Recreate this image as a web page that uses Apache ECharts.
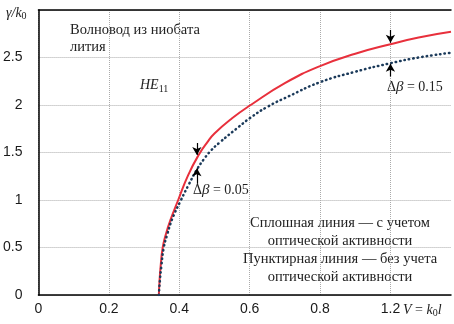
<!DOCTYPE html>
<html>
<head>
<meta charset="utf-8">
<script src="https://cdn.jsdelivr.net/npm/echarts@6/dist/echarts.min.js"></script>
<style>
  html, body { margin: 0; padding: 0; background: #fff; }
  #chart { width: 454px; height: 324px; }
</style>
</head>
<body>
<div id="chart"></div>
<script>
// tick labels as printed on the original (last one reads 1.2 at the 1.0 position)
const xTickLabels = ['0', '0.2', '0.4', '0.6', '0.8', '1.2']
const yTickLabels = ['0', '0.5', '1', '1.5', '2', '2.5']

// solid line: with optical activity
const vSolid = [0.342, 0.344, 0.347, 0.353, 0.362, 0.375, 0.397, 0.425, 0.456, 0.48, 0.5, 0.55, 0.603, 0.7, 0.8, 0.9, 1.0, 1.08, 1.172]
const gSolid = [0, 0.15, 0.3, 0.5, 0.64, 0.79, 1.0, 1.26, 1.48, 1.61, 1.7, 1.86, 2.0, 2.23, 2.41, 2.54, 2.64, 2.71, 2.77]

// dotted line: without optical activity
const vDotted = [0.342, 0.345, 0.349, 0.356, 0.366, 0.38, 0.405, 0.428, 0.45, 0.47, 0.49, 0.513, 0.569, 0.6, 0.65, 0.71, 0.8, 0.9, 1.0, 1.08, 1.172]
const gDotted = [0, 0.15, 0.3, 0.5, 0.64, 0.8, 1.0, 1.17, 1.32, 1.43, 1.52, 1.6, 1.77, 1.86, 1.98, 2.09, 2.24, 2.35, 2.44, 2.5, 2.55]

// arrows marking the gap between the curves: [x, tail, tip]
const arrowDown = [[0.45, 1.6, 1.475], [1.0, 2.79, 2.655]]
const arrowUp = [[0.45, 1.17, 1.335], [1.0, 2.3, 2.435]]

const serif = 'Liberation Serif'
const sans = 'Liberation Sans'

let mychart = echarts.init(document.getElementById('chart'))

function arrowLines(list) {
  return list.map((a) => [
    { coord: [a[0], a[1]], symbol: 'none' },
    { coord: [a[0], a[2]], symbol: 'arrow', symbolSize: [7, 8] },
  ])
}

let option = {
  animation: false,
  grid: { left: 38, right: 0, top: 10, bottom: 29 },
  xAxis: [
    {
      type: 'value',
      min: 0,
      max: 1.172,
      interval: 0.2,
      axisLine: { lineStyle: { color: '#000', width: 1.5 } },
      axisTick: { show: false },
      axisLabel: {
        color: '#1a1a1a',
        fontFamily: sans,
        fontSize: 14,
        margin: 7,
        formatter: (v) => {
          let i = Math.round(v / 0.2)
          return Math.abs(v - i * 0.2) < 1e-6 && i < xTickLabels.length ? xTickLabels[i] : ''
        },
      },
      splitLine: { showMaxLine: false, lineStyle: { color: '#aaa', type: 'dotted', width: 1 } },
    },
    {
      type: 'value',
      position: 'top',
      min: 0,
      max: 1.172,
      axisLine: { show: true, onZero: false, lineStyle: { color: '#000', width: 1.5 } },
      axisTick: { show: false },
      axisLabel: { show: false },
      splitLine: { show: false },
    },
  ],
  yAxis: {
    type: 'value',
    min: 0,
    max: 3,
    interval: 0.5,
    axisLine: { show: true, lineStyle: { color: '#000', width: 1.5 } },
    axisTick: { show: false },
    axisLabel: {
      color: '#1a1a1a',
      fontFamily: sans,
      fontSize: 14,
      margin: 16,
      formatter: (v) => {
        let i = Math.round(v / 0.5)
        return i < yTickLabels.length ? yTickLabels[i] : ''
      },
    },
    splitLine: { lineStyle: { color: '#aaa', type: 'dotted', width: 1 } },
  },
  series: [
    {
      type: 'line',
      data: vSolid.map((v, i) => [v, gSolid[i]]),
      smooth: true,
      symbol: 'none',
      lineStyle: { color: '#e8303c', width: 2 },
      markLine: {
        silent: true,
        label: { show: false },
        lineStyle: { color: '#000', width: 1.2, type: 'solid' },
        data: arrowLines(arrowDown),
      },
    },
    {
      type: 'line',
      data: vDotted.map((v, i) => [v, gDotted[i]]),
      smooth: true,
      symbol: 'none',
      lineStyle: { color: '#1b3a5a', width: 2.5, type: [0.5, 4], cap: 'round' },
      markLine: {
        silent: true,
        label: { show: false },
        lineStyle: { color: '#000', width: 1.2, type: 'solid' },
        data: arrowLines(arrowUp),
      },
    },
  ],
  graphic: [
    {
      type: 'text', left: 70, top: 22,
      style: { text: 'Волновод из ниобата\nлития', font: '14.5px "Liberation Serif"', fill: '#222', lineHeight: 17 },
    },
    {
      type: 'text', left: 140, top: 78,
      style: {
        text: '{i|HE}{s|11}',
        rich: {
          i: { fontFamily: serif, fontStyle: 'italic', fontSize: 14, fill: '#222' },
          s: { fontFamily: serif, fontSize: 10, fill: '#222', padding: [8, 0, 0, 0] },
        },
      },
    },
    {
      type: 'text', left: 193, top: 183,
      style: {
        text: 'Δ{b|β} = 0.05',
        font: '14px "Liberation Serif"', fill: '#222',
        rich: { b: { fontFamily: serif, fontStyle: 'italic', fontSize: 15, fill: '#222' } },
      },
    },
    {
      type: 'text', left: 387, top: 80,
      style: {
        text: 'Δ{b|β} = 0.15',
        font: '14px "Liberation Serif"', fill: '#222',
        rich: { b: { fontFamily: serif, fontStyle: 'italic', fontSize: 15, fill: '#222' } },
      },
    },
    {
      type: 'text', x: 340, y: 214,
      style: {
        text: 'Сплошная линия — с учетом\nоптической активности\nПунктирная линия — без учета\nоптической активности',
        font: '14.5px "Liberation Serif"', fill: '#222', align: 'center', lineHeight: 18,
      },
    },
    {
      type: 'text', left: 6, top: 6,
      style: {
        text: '{i|γ/k}{s|0}',
        rich: {
          i: { fontFamily: serif, fontStyle: 'italic', fontSize: 14, fill: '#222' },
          s: { fontFamily: serif, fontSize: 10, fill: '#222', padding: [7, 0, 0, 0] },
        },
      },
    },
    {
      type: 'text', left: 403, top: 303,
      style: {
        text: '{i|V} = {i|k}{s|0}{i|l}',
        font: '14px "Liberation Serif"', fill: '#222',
        rich: {
          i: { fontFamily: serif, fontStyle: 'italic', fontSize: 14, fill: '#222' },
          s: { fontFamily: serif, fontSize: 10, fill: '#222', padding: [7, 0, 0, 0] },
        },
      },
    },
  ],
}

mychart.setOption(option)
window.addEventListener('resize', () => {
  mychart.resize()
})
</script>
</body>
</html>
